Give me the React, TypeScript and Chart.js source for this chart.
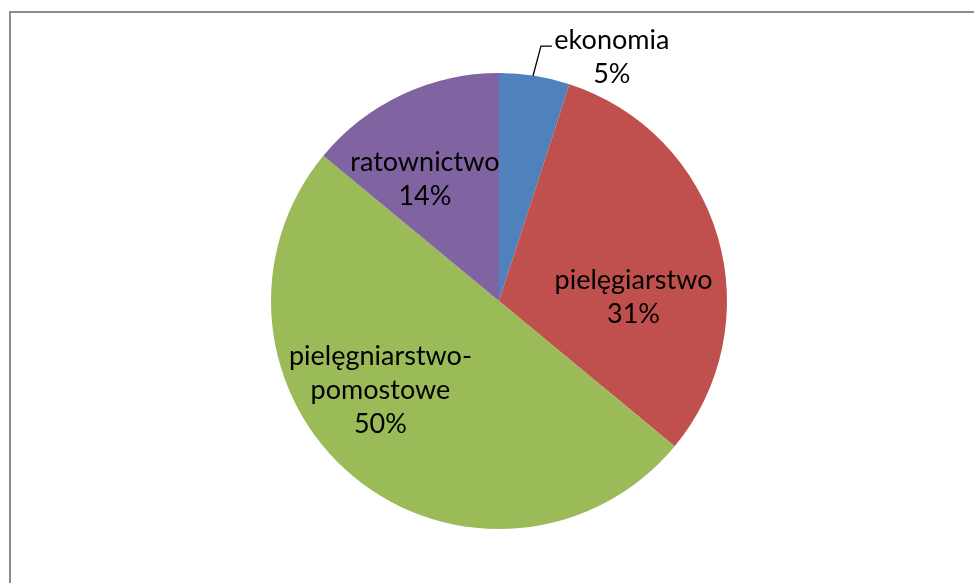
import React, { useEffect, useRef } from 'react';
import { Chart, registerables } from 'chart.js';

Chart.register(...registerables);

// ---- data ----
const categories = ['ekonomia', 'pielęgiarstwo', 'pielęgniarstwo-pomostowe', 'ratownictwo'];
const values = [5, 31, 50, 14];
const labelLines = [['ekonomia'], ['pielęgiarstwo'], ['pielęgniarstwo-', 'pomostowe'], ['ratownictwo']];

// ---- styles ----
const colors = ['#4F81BD', '#C0504D', '#9BBB59', '#8064A2'];
// label block centres, in units of the pie radius, relative to pie centre
const labelAnchors: [number, number][] = [
  [0.495, -1.07],
  [0.59, -0.015],
  [-0.52, 0.39],
  [-0.325, -0.535],
];
// leader line for the outside label (radius units)
const leader: [number, number][] = [
  [0.149, -0.987],
  [0.184, -1.118],
  [0.232, -1.118],
];
const FONT = '27px Lato, "Open Sans", sans-serif';
const LINE_H = 34;

const labelPlugin = {
  id: 'pieLabels',
  beforeDraw(chart: any) {
    const ctx = chart.ctx;
    ctx.save();
    ctx.fillStyle = '#ffffff';
    ctx.fillRect(0, 0, chart.width, chart.height);
    ctx.strokeStyle = '#8c8c8c';
    ctx.lineWidth = 2;
    ctx.strokeRect(10, 12, chart.width + 20, chart.height + 20);
    ctx.restore();
  },
  afterDatasetsDraw(chart: any) {
    const ctx = chart.ctx;
    const meta = chart.getDatasetMeta(0);
    const data = chart.data.datasets[0].data as number[];
    const total = data.reduce((a, b) => a + b, 0);
    const arc0 = meta.data[0] as any;
    const cx = arc0.x;
    const cy = arc0.y;
    const R = arc0.outerRadius;
    ctx.save();
    // leader line
    ctx.strokeStyle = '#000000';
    ctx.lineWidth = 1.3;
    ctx.beginPath();
    leader.forEach(([fx, fy], i) => {
      const x = cx + fx * R;
      const y = cy + fy * R;
      if (i === 0) ctx.moveTo(x, y);
      else ctx.lineTo(x, y);
    });
    ctx.stroke();

    ctx.font = FONT;
    ctx.fillStyle = '#000000';
    ctx.textAlign = 'center';
    ctx.textBaseline = 'middle';
    meta.data.forEach((_: any, i: number) => {
      const pct = Math.round((data[i] / total) * 100) + '%';
      const lines = [...labelLines[i], pct];
      const [fx, fy] = labelAnchors[i];
      const x = cx + fx * R;
      const y0 = cy + fy * R - ((lines.length - 1) * LINE_H) / 2;
      lines.forEach((t, j) => ctx.fillText(t, x, y0 + j * LINE_H));
    });
    ctx.restore();
  },
};

export default function App() {
  const ref = useRef<HTMLCanvasElement | null>(null);
  useEffect(() => {
    document.body.style.margin = '0';
    const canvas = ref.current!;
    const chart = new Chart(canvas, {
      type: 'pie',
      data: {
        labels: categories,
        datasets: [
          {
            data: values,
            backgroundColor: colors,
            borderWidth: 0,
          },
        ],
      },
      options: {
        responsive: false,
        animation: false,
        layout: { padding: { top: 73, bottom: 54, left: 271, right: 247 } },
        plugins: {
          legend: { display: false },
          tooltip: { enabled: false },
        },
      },
      plugins: [labelPlugin],
    });
    return () => chart.destroy();
  }, []);
  return (
    <div style={{ width: 974, height: 583 }}>
      <canvas ref={ref} width={974} height={583} style={{ display: 'block' }} />
    </div>
  );
}
